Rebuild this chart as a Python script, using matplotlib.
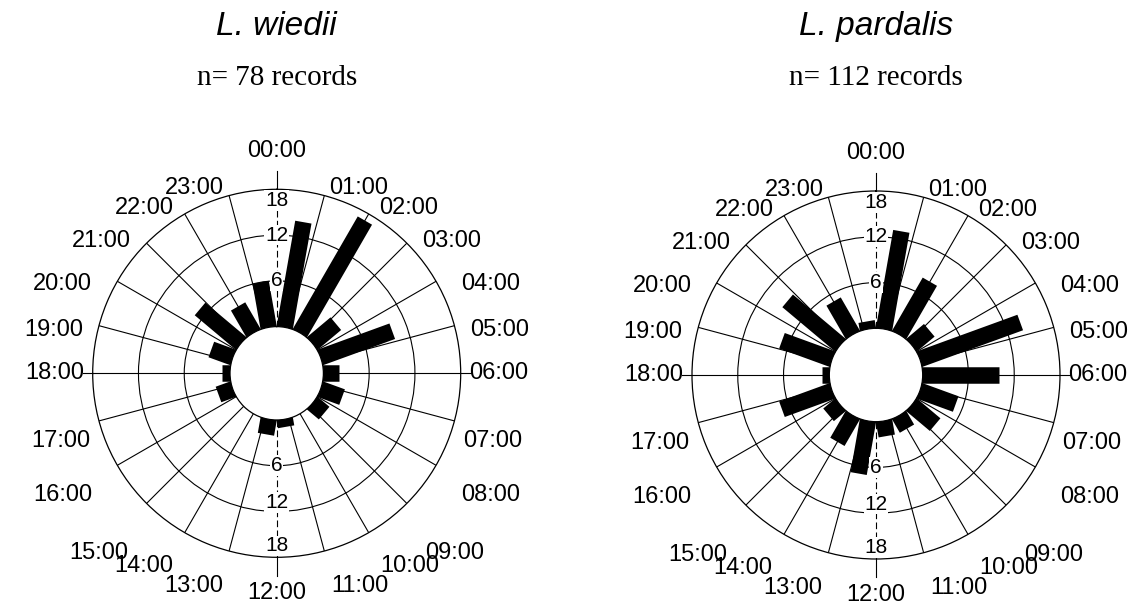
"""Daily activity rose diagrams for two Leopardus species (camera-trap records)."""
import numpy as np
import matplotlib
matplotlib.use("Agg")
import matplotlib.pyplot as plt

plt.rcParams["font.family"] = ["Liberation Sans", "DejaVu Sans"]

# 18 bins of 80 min (20 deg) starting at 00:00, clockwise
bin_centres_deg = np.arange(10, 360, 20)
wiedii_counts = [14, 17, 4, 10, 2, 3, 2, 0, 1, 2, 0, 0, 2, 1, 3, 7, 4, 6]
pardalis_counts = [13, 8, 3, 14, 10, 5, 4, 2, 2, 7, 4, 2, 7, 1, 7, 9, 5, 1]

species = ["L. wiedii", "L. pardalis"]
n_records = [78, 112]
hour_labels = [f"{h:02d}:00" for h in range(24)]
ring_values = [6, 12, 18]

# layout: label centres (px from chart centre, y up) for 00:00 .. 12:00
_HALF = [(0, 222), (82, 185), (132, 165), (175, 132), (214, 89), (223, 43),
         (222, 0), (216, -68), (214, -122), (178, -180), (133, -193),
         (83, -213), (0, -220)]
LABEL_OFF = _HALF + [(-dx, dy) for dx, dy in _HALF[11:0:-1]]

W, H, DPI = 1148, 611, 100
R_OUT = 184.0          # px, radius of the 18 ring
HOLE = 6.12            # data units inside the empty centre
PX = 0.72              # px -> points at dpi 100

fig = plt.figure(figsize=(W / DPI, H / DPI), dpi=DPI)
centres = [(276.7, 373.3), (876.0, 375.0)]


def rose(ax, counts):
    ax.set_theta_zero_location("N")
    ax.set_theta_direction(-1)
    ax.set_rorigin(-HOLE)
    ax.set_ylim(0, 18)

    spokes = [a for a in range(0, 360, 15) if a not in (0, 180)]
    ax.set_xticks(np.deg2rad(spokes))
    ax.set_xticklabels([])
    ax.set_yticks(ring_values[:-1])
    ax.set_yticklabels([])
    ax.grid(True, color="black", lw=0.8)
    for sp in ax.spines.values():
        sp.set_color("black")
        sp.set_linewidth(0.9)

    # bars: constant-width rectangles
    for ang, c in zip(bin_centres_deg, counts):
        if c:
            t = np.deg2rad(ang)
            ax.plot([t, t], [-0.6, c], color="black", lw=16.5 * PX,
                    solid_capstyle="butt", zorder=3)

    # north-south axis dashed inside, solid outside
    for t in (0, np.pi):
        ax.plot([t, t], [0, 18], color="black", lw=0.8, ls=(0, (6, 3)), zorder=4)
        ax.plot([t, t], [18, 20.4], color="black", lw=0.8, clip_on=False)
    for t in (np.pi / 2, 3 * np.pi / 2):
        ax.plot([t, t], [18, 19.3], color="black", lw=0.8, clip_on=False)

    # scale labels along the vertical axis
    box = dict(fc="white", ec="none", pad=0.6)
    for r_top, r_bot, v in [(6, 6, 6), (12, 10.8, 12), (16.5, 16.5, 18)]:
        ax.text(0, r_top, str(v), ha="center", va="center", fontsize=15,
                bbox=box, zorder=5)
        ax.text(np.pi, r_bot, str(v), ha="center", va="center", fontsize=15,
                bbox=box, zorder=5)

    for lab, (dx, dy) in zip(hour_labels, LABEL_OFF):
        ax.annotate(lab, xy=(0.5, 0.5), xycoords="axes fraction",
                    xytext=(dx * PX, dy * PX), textcoords="offset points",
                    ha="center", va="center", fontsize=17,
                    annotation_clip=False)


for (cx, cy), name, n, counts in zip(centres, species, n_records,
                                     [wiedii_counts, pardalis_counts]):
    ax = fig.add_axes([(cx - R_OUT) / W, (H - cy - R_OUT) / H,
                       2 * R_OUT / W, 2 * R_OUT / H], projection="polar")
    rose(ax, counts)
    fig.text(cx / W, 1 - 35 / H, name, ha="center", va="baseline",
             fontsize=24, style="italic")
    fig.text(cx / W, 1 - 85 / H, f"n= {n} records", ha="center",
             va="baseline", fontsize=21, family="Liberation Serif")

fig.savefig("out.png", dpi=DPI)
